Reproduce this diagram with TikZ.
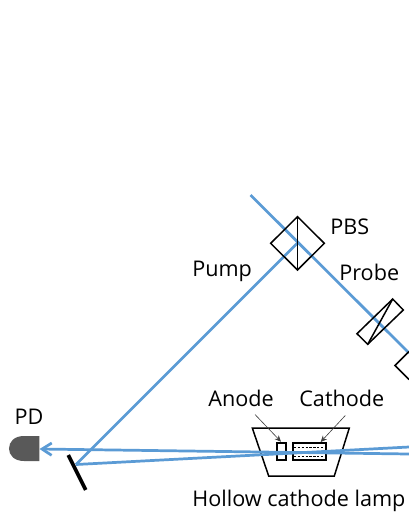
\documentclass[tikz,border=0pt]{standalone}
\usepackage{fontspec}
\setmainfont{Open Sans}
\usetikzlibrary{arrows.meta,positioning,calc}
\definecolor{Beam}{HTML}{5B9BD5}
\definecolor{Detector}{HTML}{595959}
\tikzset{
  beam/.style={Beam,line width=1.55pt},
  optic/.style={black,line width=0.85pt,line join=miter},
  electrode/.style={black,line width=1.05pt},
  gauze/.style={black,line width=0.3pt,dash pattern=on 1.3pt off 0.9pt},
  pointer/.style={-{Stealth[length=3.6pt,width=3.2pt]},black!75,line width=0.35pt},
  caption/.style={font=\fontsize{12.3pt}{14pt}\selectfont,inner sep=0pt,text=black}
}
\begin{document}
\begin{tikzpicture}[x=0.02cm,y=-0.02cm,>=stealth]
\useasboundingbox (0,0) rectangle (409,529);
\fill[white] (0,0) rectangle (409,529);
\coordinate (mirrorHit) at (76,464.5);
\coordinate (pbsCentre) at (297.5,243);
\coordinate (probeStart) at (250.5,195);
\coordinate (probeEnd) at (409,353);
\coordinate (returnEnd) at (409,447);
\coordinate (signalStart) at (409,454);
\coordinate (pdFace) at (39.5,449);
\node[caption] (pd) at (29,417) {PD};
\node[caption,anchor=west] (pbs) at (330,227) {PBS};
\node[caption,anchor=west] (pump) at (192,271) {Pump};
\node[caption,anchor=west] (probe) at (339,272) {Probe};
\node[caption,anchor=west] (anode) at (208,398) {Anode};
\node[caption,anchor=west] (cathode) at (299,398) {Cathode};
\node[caption,anchor=west] (lamp) at (192,501) {Hollow cathode lamp};
\draw[optic] (252.3,428) -- (349.3,428) -- (334.3,476) -- (268.7,476) -- cycle;
\draw[electrode] (276.7,442.7) rectangle (286,460);
\draw[electrode] (292.7,443.3) rectangle (326.3,460);
\draw[gauze] (294,447.7) -- (325,447.7);
\draw[gauze] (294,456) -- (325,456);
\draw[pointer] (255,414.5) -- (281,441.7);
\draw[pointer] (345.3,415.5) -- (320.7,442);
\draw[beam] (probeStart) -- (probeEnd);
\draw[beam] (pbsCentre) -- (mirrorHit);
\draw[beam] (mirrorHit) -- (returnEnd);
\draw[beam,-{Straight Barb[length=5.5pt,width=7pt]}] (signalStart) -- (pdFace);
\draw[optic] (297.5,216.7) -- (324.3,243.3) -- (297.5,270) -- (270.7,243.3) -- cycle;
\draw[optic] (297.5,216.7) -- (297.5,270);
\draw[optic] (392.7,299) -- (403.3,310) -- (367.7,344.3) -- (357,333.7) -- cycle;
\draw[optic] (392.7,299) -- (367.7,344.3);
\draw[optic] (409,351.5) -- (395,365.5) -- (409,379.5);
\draw[black,line width=2.1pt] (68.3,455) -- (85.7,490);
\fill[Detector] (39.3,436) -- (39.3,461) -- (24,461) .. controls (14,461) and (9,455) .. (9,448.5) .. controls (9,442) and (14,436) .. (24,436) -- cycle;
\end{tikzpicture}
\end{document}
